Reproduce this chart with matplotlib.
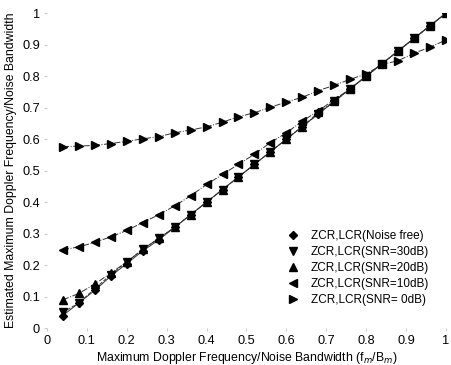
import matplotlib
matplotlib.use("Agg")
import matplotlib.pyplot as plt
import numpy as np

plt.rcParams['font.family'] = ['Liberation Sans', 'DejaVu Sans']

x = [0.04, 0.08, 0.12, 0.16, 0.20, 0.24, 0.28, 0.32, 0.36, 0.40, 0.44, 0.48, 0.52,
     0.56, 0.60, 0.64, 0.68, 0.72, 0.76, 0.80, 0.84, 0.88, 0.92, 0.96, 1.00]

noise_free = [0.04, 0.08, 0.12, 0.165, 0.205, 0.245, 0.28, 0.32, 0.36, 0.40, 0.44, 0.48, 0.52,
              0.56, 0.60, 0.64, 0.68, 0.72, 0.76, 0.80, 0.84, 0.88, 0.92, 0.96, 1.00]
snr30 = [0.05, 0.08, 0.125, 0.17, 0.21, 0.25, 0.285, 0.32, 0.36, 0.40, 0.44, 0.48, 0.52,
         0.56, 0.60, 0.64, 0.68, 0.72, 0.76, 0.80, 0.84, 0.88, 0.92, 0.96, 1.00]
snr20 = [0.09, 0.11, 0.14, 0.175, 0.21, 0.25, 0.285, 0.32, 0.36, 0.40, 0.44, 0.48, 0.52,
         0.56, 0.60, 0.64, 0.685, 0.72, 0.76, 0.80, 0.84, 0.88, 0.92, 0.96, 1.00]
snr10 = [0.249, 0.258, 0.272, 0.29, 0.31, 0.335, 0.36, 0.388, 0.42, 0.456, 0.488, 0.52, 0.552,
         0.589, 0.62, 0.657, 0.69, 0.725, 0.76, 0.80, 0.84, 0.88, 0.92, 0.96, 1.00]
snr0 = [0.576, 0.578, 0.58, 0.586, 0.593, 0.601, 0.608, 0.62, 0.629, 0.639, 0.654, 0.671, 0.684,
        0.701, 0.718, 0.733, 0.754, 0.771, 0.79, 0.807, 0.837, 0.849, 0.873, 0.892, 0.915]

labels = ['ZCR,LCR(Noise free)', 'ZCR,LCR(SNR=30dB)', 'ZCR,LCR(SNR=20dB)',
          'ZCR,LCR(SNR=10dB)', 'ZCR,LCR(SNR= 0dB)']
xticks = [0, 0.1, 0.2, 0.3, 0.4, 0.5, 0.6, 0.7, 0.8, 0.9, 1]
xticklabels = ['0', '0.1', '0.2', '0.3', '0.4', '0.5', '0.6', '0.7', '0.8', '0.9', '1']

fig = plt.figure(figsize=(4.51, 3.65), dpi=100)
ax = fig.add_axes([0.104, 0.101, 0.885, 0.863])

series = [noise_free, snr30, snr20, snr10, snr0]
markers = ['D', 'v', '^', '<', '>']
styles = ['-', '--', '-.', '-.', '-.']
msizes = [4.5, 5.5, 5.5, 5.5, 5.5]
handles = []
for ys, m, ls, ms, lab in zip(series, markers, styles, msizes, labels):
    ax.plot(x, ys, color='#333333', lw=0.7, ls=ls, zorder=2)
    h, = ax.plot(x, ys, ls='none', marker=m, ms=ms, color='black', label=lab, zorder=3)
    handles.append(h)

ax.set_xlim(0, 1)
ax.set_ylim(0, 1)
ax.set_xticks(xticks)
ax.set_xticklabels(xticklabels)
ax.set_yticks(xticks)
ax.set_yticklabels(xticklabels)
for s in ax.spines.values():
    s.set_visible(False)
ax.tick_params(length=2, color='#cccccc', labelsize=9.2, pad=3)
ax.set_xlabel('Maximum Doppler Frequency/Noise Bandwidth (f$_m$/B$_m$)', fontsize=8.8, labelpad=2)
ax.set_ylabel('Estimated Maximum Doppler Frequency/Noise Bandwidth', fontsize=8.8, labelpad=4)

ax.legend(handles=handles, loc='lower right', frameon=False, fontsize=8.5,
          handlelength=1.0, handletextpad=1.0, labelspacing=0.35,
          bbox_to_anchor=(0.985, 0.035))

fig.savefig('out.png', dpi=100)
